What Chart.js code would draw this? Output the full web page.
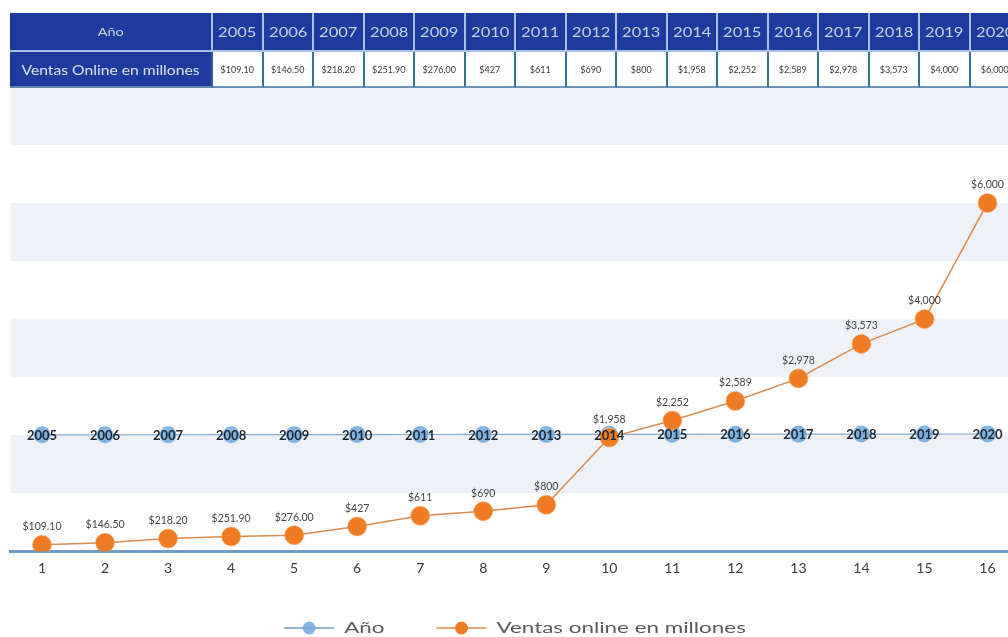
<!DOCTYPE html>
<html lang="es">
<head>
<meta charset="utf-8">
<title>Ventas online en millones</title>
<script src="https://cdn.jsdelivr.net/npm/chart.js@4.4.1/dist/chart.umd.min.js"></script>
<style>
  html, body { margin: 0; padding: 0; background: #fff; overflow: hidden; width: 1008px; height: 637px; }
  #wrap { position: relative; width: 1030px; height: 637px; overflow: hidden; }
  #chartBox { position: absolute; left: 0; top: 0; width: 1030px; height: 637px; }
  #tabla { position: absolute; left: 10px; top: 13px; border-collapse: separate; border-spacing: 0;
           table-layout: fixed; font-family: Lato, "Open Sans", sans-serif; width: 1011px; }
  #tabla th, #tabla td { padding: 0; text-align: center; white-space: nowrap; overflow: hidden; box-sizing: border-box; }
  #tabla span { display: inline-block; transform-origin: center; }
  #tabla tr.anio th { height: 39px; background: #1d3b9e; color: #c6d5f0; font-weight: normal; font-size: 14px;
                      border-right: 2px solid #a7c2e4; border-bottom: 2px solid #a7c2e4; }
  #tabla tr.anio th span { transform: scaleX(1.18); }
  #tabla tr.anio th.head { font-size: 12px; }
  #tabla tr.anio th.head span { transform: scaleX(1.2); }
  #tabla tr.ventas th { height: 36px; background: #1d3b9e; color: #dbe4f6; font-weight: normal; font-size: 14px;
                        border-right: 2px solid #2e5f88; border-bottom: 2px solid #5d87aa; }
  #tabla tr.ventas th span { transform: scaleX(1.12); }
  #tabla tr.ventas td { height: 36px; background: #fff; color: #3a3a3a; font-size: 9px;
                        border-right: 2px solid #3b7190; border-bottom: 2px solid #6b93b5; }
</style>
</head>
<body>
<div id="wrap">
  <div id="chartBox"><canvas id="grafico"></canvas></div>
  <table id="tabla"><colgroup id="cols"></colgroup><tbody id="cuerpo"></tbody></table>
</div>
<script>
// Eje X: posición de cada año en la serie
const categorias = ['1', '2', '3', '4', '5', '6', '7', '8', '9', '10', '11', '12', '13', '14', '15', '16'];
// Serie "Año"
const anios = [2005, 2006, 2007, 2008, 2009, 2010, 2011, 2012, 2013, 2014, 2015, 2016, 2017, 2018, 2019, 2020];
// Serie "Ventas online en millones" (USD)
const ventas = [109.10, 146.50, 218.20, 251.90, 276.00, 427, 611, 690, 800, 1958, 2252, 2589, 2978, 3573, 4000, 6000];

const ejeYMin = 0;
const ejeYMax = 8000;
const ejeYPaso = 1000;

const AZUL_PUNTO = 'rgba(111, 168, 220, 0.85)';
const AZUL_LINEA = '#86a9c9';
const NARANJA_PUNTO = '#f07b25';
const NARANJA_LINEA = '#d98a4e';

function formatoVenta(v) {
  return v < 300 ? '$' + v.toFixed(2) : '$' + v.toLocaleString('en-US');
}

// ---- Tabla superior ----
(function construirTabla() {
  const celda = (tag, texto, clase) => {
    const c = document.createElement(tag);
    if (clase) c.className = clase;
    const s = document.createElement('span'); s.textContent = texto; c.appendChild(s);
    return c;
  };
  const cols = document.getElementById('cols');
  const c0 = document.createElement('col'); c0.style.width = '203px'; cols.appendChild(c0);
  anios.forEach(() => { const c = document.createElement('col'); c.style.width = '50.5px'; cols.appendChild(c); });
  const cuerpo = document.getElementById('cuerpo');
  const fila1 = document.createElement('tr'); fila1.className = 'anio';
  fila1.appendChild(celda('th', 'Año', 'head'));
  anios.forEach(a => fila1.appendChild(celda('th', String(a))));
  const fila2 = document.createElement('tr'); fila2.className = 'ventas';
  fila2.appendChild(celda('th', 'Ventas Online en millones'));
  ventas.forEach(v => fila2.appendChild(celda('td', formatoVenta(v))));
  cuerpo.appendChild(fila1); cuerpo.appendChild(fila2);
})();

// ---- Franjas horizontales alternas del área de trazado ----
const franjas = {
  id: 'franjas',
  beforeDraw(chart) {
    const { ctx, chartArea } = chart;
    const y = chart.scales.y;
    ctx.save();
    ctx.fillStyle = '#eef2f7';
    for (let v = ejeYMin + ejeYPaso; v < ejeYMax; v += 2 * ejeYPaso) {
      const top = y.getPixelForValue(v + ejeYPaso);
      const bot = y.getPixelForValue(v);
      ctx.fillRect(chartArea.left, top, chartArea.right - chartArea.left, bot - top);
    }
    ctx.restore();
  }
};

// ---- Etiquetas de valor sobre los puntos ----
const etiquetas = {
  id: 'etiquetas',
  afterDatasetsDraw(chart) {
    const { ctx } = chart;
    ctx.save();
    ctx.textAlign = 'center';
    ctx.textBaseline = 'middle';
    const mVentas = chart.getDatasetMeta(1);
    ctx.font = '10.5px Lato, sans-serif';
    ctx.fillStyle = '#454545';
    mVentas.data.forEach((p, i) => ctx.fillText(formatoVenta(ventas[i]), p.x, p.y - 18));
    const mAnio = chart.getDatasetMeta(0);
    ctx.font = 'bold 13px Lato, sans-serif';
    ctx.fillStyle = '#1c2733';
    mAnio.data.forEach((p, i) => ctx.fillText(String(anios[i]), p.x, p.y + 1));
    ctx.restore();
  }
};

// ---- Leyenda inferior: línea con círculo + texto ensanchado ----
const leyenda = {
  id: 'leyenda',
  afterDraw(chart) {
    const { ctx } = chart;
    const estirar = 1.4;
    const anchoMarca = 50, hueco = 10, separacion = 52, yCentro = 628;
    const items = chart.data.datasets.map(ds => ({
      texto: ds.label, linea: ds.legendLine, punto: ds.pointBackgroundColor
    }));
    ctx.save();
    ctx.font = '16px Lato, sans-serif';
    const anchos = items.map(it => ctx.measureText(it.texto).width * estirar);
    const total = items.reduce((s, it, i) => s + anchoMarca + hueco + anchos[i], 0) + separacion * (items.length - 1);
    let x = chart.width / 2 - total / 2;
    items.forEach((it, i) => {
      ctx.strokeStyle = it.linea; ctx.lineWidth = 2;
      ctx.beginPath(); ctx.moveTo(x, yCentro); ctx.lineTo(x + anchoMarca, yCentro); ctx.stroke();
      ctx.fillStyle = it.punto;
      ctx.beginPath(); ctx.arc(x + anchoMarca / 2, yCentro, 6.5, 0, Math.PI * 2); ctx.fill();
      const xt = x + anchoMarca + hueco;
      ctx.save();
      ctx.translate(xt, yCentro);
      ctx.scale(estirar, 1);
      ctx.fillStyle = '#5a5a5a';
      ctx.textAlign = 'left';
      ctx.textBaseline = 'middle';
      ctx.fillText(it.texto, 0, 0);
      ctx.restore();
      x = xt + anchos[i] + separacion;
    });
    ctx.restore();
  }
};

Chart.defaults.font.family = 'Lato, "Open Sans", sans-serif';

new Chart(document.getElementById('grafico'), {
  type: 'line',
  data: {
    labels: categorias,
    datasets: [
      {
        label: 'Año',
        data: anios,
        borderColor: AZUL_LINEA,
        borderWidth: 1.2,
        backgroundColor: AZUL_PUNTO,
        pointBackgroundColor: AZUL_PUNTO,
        pointBorderWidth: 0,
        pointRadius: 8.5,
        legendLine: '#93b3d1',
        order: 1
      },
      {
        label: 'Ventas online en millones',
        data: ventas,
        borderColor: NARANJA_LINEA,
        borderWidth: 1.5,
        backgroundColor: NARANJA_PUNTO,
        pointBackgroundColor: NARANJA_PUNTO,
        pointBorderColor: 'rgba(245, 170, 110, 0.6)',
        pointBorderWidth: 1,
        pointRadius: 9.5,
        legendLine: '#eca274',
        order: 0
      }
    ]
  },
  options: {
    responsive: true,
    maintainAspectRatio: false,
    animation: false,
    events: [],
    layout: { padding: { top: 87, left: 10, right: 11, bottom: 51 } },
    scales: {
      x: {
        offset: true,
        grid: { display: false, drawTicks: false },
        border: { display: true, color: '#6f9cc2', width: 3 },
        ticks: { color: '#3a3a3a', font: { size: 14 }, padding: 9 }
      },
      y: {
        display: false,
        min: ejeYMin,
        max: ejeYMax
      }
    },
    plugins: {
      tooltip: { enabled: false },
      legend: { display: false }
    }
  },
  plugins: [franjas, etiquetas, leyenda]
});
</script>
</body>
</html>
